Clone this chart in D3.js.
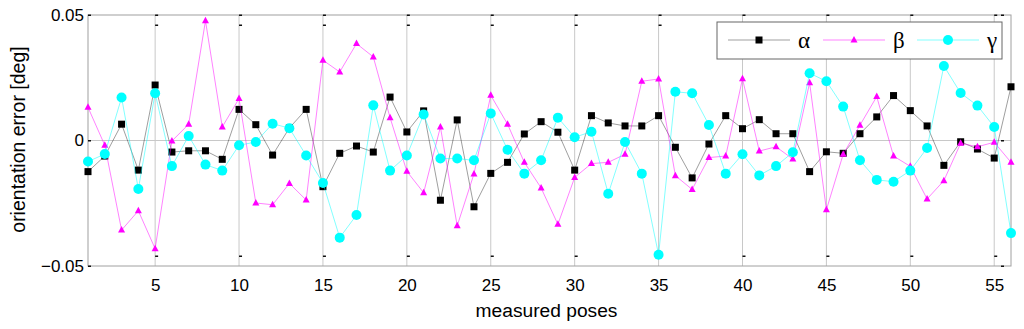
<!DOCTYPE html>
<html>
<head>
<meta charset="utf-8">
<script src="https://cdnjs.cloudflare.com/ajax/libs/d3/7.8.5/d3.min.js"></script>
<style>
  body { margin: 0; background: #fff; }
  text { font-family: "Liberation Sans", Arial, sans-serif; }
</style>
</head>
<body>
<div id="chart"></div>
<script>
// orientation errors per measured pose [deg]
var alpha = [-0.0124, -0.0062, 0.0065, -0.0118, 0.0221, -0.0046, -0.0041, -0.0041, -0.0075, 0.0124,
  0.0063, -0.0058, 0.0050, 0.0124, -0.0184, -0.0051, -0.0022, -0.0046, 0.0173, 0.0034,
  0.0118, -0.0238, 0.0082, -0.0264, -0.0131, -0.0087, 0.0026, 0.0075, 0.0033, -0.0118,
  0.0099, 0.0070, 0.0058, 0.0058, 0.0099, -0.0027, -0.0149, -0.0014, 0.0099, 0.0047,
  0.0083, 0.0027, 0.0027, -0.0124, -0.0045, -0.0051, 0.0027, 0.0094, 0.0179, 0.0119,
  0.0058, -0.0099, -0.0005, -0.0034, -0.0070, 0.0214];
var beta = [0.0132, -0.0019, -0.0357, -0.0280, -0.0431, -0.0002, 0.0065, 0.0477, 0.0054, 0.0167,
  -0.0249, -0.0256, -0.0171, -0.0237, 0.0320, 0.0273, 0.0386, 0.0333, 0.0091, -0.0123,
  -0.0208, 0.0054, -0.0340, -0.0133, 0.0180, 0.0065, -0.0087, -0.0189, -0.0334, -0.0147,
  -0.0092, -0.0087, -0.0055, 0.0236, 0.0245, -0.0140, -0.0195, -0.0068, -0.0062, 0.0246,
  -0.0042, -0.0025, -0.0074, 0.0230, -0.0276, -0.0055, 0.0061, 0.0175, -0.0062, -0.0103,
  -0.0233, -0.0160, -0.0011, -0.0025, -0.0007, -0.0087];
var gamma = [-0.0084, -0.0054, 0.0171, -0.0193, 0.0188, -0.0102, 0.0018, -0.0096, -0.0120, -0.0019,
  -0.0006, 0.0067, 0.0049, -0.0060, -0.0169, -0.0387, -0.0297, 0.0140, -0.0120, -0.0060,
  0.0104, -0.0072, -0.0072, -0.0079, 0.0108, -0.0037, -0.0132, -0.0079, 0.0091, 0.0013,
  0.0035, -0.0212, -0.0006, -0.0132, -0.0455, 0.0194, 0.0188, 0.0062, -0.0132, -0.0055,
  -0.0139, -0.0102, -0.0047, 0.0268, 0.0236, 0.0135, -0.0079, -0.0157, -0.0164, -0.0120,
  -0.0030, 0.0297, 0.0189, 0.0139, 0.0054, -0.0369];
var xTicks = [5, 10, 15, 20, 25, 30, 35, 40, 45, 50, 55];
var yTicks = [-0.05, 0, 0.05];
var seriesNames = ["\u03b1", "\u03b2", "\u03b3"];
var seriesColors = ["#000000", "#ff00ff", "#00ffff"];
var seriesShapes = ["square", "triangle", "circle"];

var w = 1024, h = 329;
var padL = 88, padR = 1011, padT = 15, padB = 266;

var svg = d3.select("#chart").append("svg")
  .attr("width", w)
  .attr("height", h);

var xScale = d3.scaleLinear().domain([1, 56]).range([padL, padR]);
var yScale = d3.scaleLinear().domain([-0.05, 0.05]).range([padB, padT]);

// grid lines
svg.selectAll(".vgrid")
  .data(xTicks)
  .enter().append("line")
  .attr("x1", function(d) { return xScale(d); })
  .attr("x2", function(d) { return xScale(d); })
  .attr("y1", padT).attr("y2", padB)
  .style("stroke", "#c8c8c8").style("stroke-width", 1);

svg.append("line")
  .attr("x1", padL).attr("x2", padR)
  .attr("y1", yScale(0)).attr("y2", yScale(0))
  .style("stroke", "#c8c8c8").style("stroke-width", 1);

// axis box
svg.append("rect")
  .attr("x", padL).attr("y", padT)
  .attr("width", padR - padL).attr("height", padB - padT)
  .style("fill", "none").style("stroke", "#a0a0a0").style("stroke-width", 1);

// little tick marks
xTicks.forEach(function(t) {
  var x = xScale(t);
  [padT, padT + 10, padB - 10].forEach(function(y) {
    svg.append("rect").attr("x", x).attr("y", y - 0.5)
      .attr("width", 3).attr("height", 1.5).style("fill", "#111");
  });
});
yTicks.forEach(function(t) {
  svg.append("rect").attr("x", padL).attr("y", yScale(t) - 0.5)
    .attr("width", 3).attr("height", 1.5).style("fill", "#111");
  svg.append("rect").attr("x", padR - 10).attr("y", yScale(t) - 0.5)
    .attr("width", 3).attr("height", 1.5).style("fill", "#111");
});

// axes
var xAxis = d3.axisBottom(xScale).tickValues(xTicks).tickSize(0).tickPadding(13);
var gx = svg.append("g")
  .attr("transform", "translate(0," + padB + ")")
  .call(xAxis);
gx.select(".domain").remove();
gx.selectAll("text").style("font-size", "17px").style("fill", "#000")
  .style("font-family", "'Liberation Sans', Arial, sans-serif");

var yAxis = d3.axisLeft(yScale).tickValues(yTicks).tickSize(0).tickPadding(4)
  .tickFormat(function(d) { return d === 0 ? "0" : d3.format(".2f")(d); });
var gy = svg.append("g")
  .attr("transform", "translate(" + padL + ",0)")
  .call(yAxis);
gy.select(".domain").remove();
gy.selectAll("text").style("font-size", "17px").style("fill", "#000")
  .style("font-family", "'Liberation Sans', Arial, sans-serif");

// axis labels
svg.append("text")
  .attr("x", (padL + padR) / 2 - 3).attr("y", 317)
  .style("text-anchor", "middle").style("font-size", "19.2px")
  .text("measured poses");

svg.append("text")
  .attr("transform", "rotate(-90)")
  .attr("x", -(padT + padB) / 2 + 1).attr("y", 25)
  .style("text-anchor", "middle").style("font-size", "19.5px")
  .text("orientation error [deg]");

// draw a marker
function marker(g, shape, color, x, y) {
  if (shape === "square") {
    g.append("rect").attr("x", x - 3.5).attr("y", y - 3.5)
      .attr("width", 7).attr("height", 7).style("fill", color);
  } else if (shape === "triangle") {
    g.append("path")
      .attr("d", "M" + x + "," + (y - 4) + "L" + (x + 3.5) + "," + (y + 2.5) + "L" + (x - 3.5) + "," + (y + 2.5) + "Z")
      .style("fill", color);
  } else {
    g.append("circle").attr("cx", x).attr("cy", y).attr("r", 5).style("fill", color);
  }
}

var line = d3.line()
  .x(function(d, i) { return xScale(i + 1); })
  .y(function(d) { return yScale(d); });

var allSeries = [alpha, beta, gamma];
allSeries.forEach(function(s, k) {
  var g = svg.append("g");
  g.append("path")
    .attr("d", line(s))
    .style("fill", "none")
    .style("stroke", seriesColors[k])
    .style("stroke-width", 0.7)
    .style("stroke-opacity", k === 0 ? 0.55 : 0.7);
  s.forEach(function(v, i) {
    marker(g, seriesShapes[k], seriesColors[k], xScale(i + 1), yScale(v));
  });
});

// legend
var lg = svg.append("g");
lg.append("rect")
  .attr("x", 717).attr("y", 22).attr("width", 285).attr("height", 37)
  .style("fill", "#fff").style("stroke", "#666").style("stroke-width", 1);
var legX = [728, 823, 917];
seriesNames.forEach(function(name, k) {
  var x0 = legX[k];
  lg.append("line")
    .attr("x1", x0).attr("x2", x0 + 62)
    .attr("y1", 40).attr("y2", 40)
    .style("stroke", seriesColors[k]).style("stroke-width", 0.7)
    .style("stroke-opacity", k === 0 ? 0.55 : 0.7);
  marker(lg, seriesShapes[k], seriesColors[k], x0 + 31, 40);
  lg.append("text")
    .attr("x", x0 + 70).attr("y", 48)
    .style("font-family", "'Liberation Serif', 'Times New Roman', serif")
    .style("font-size", "23px")
    .text(name);
});
</script>
</body>
</html>
